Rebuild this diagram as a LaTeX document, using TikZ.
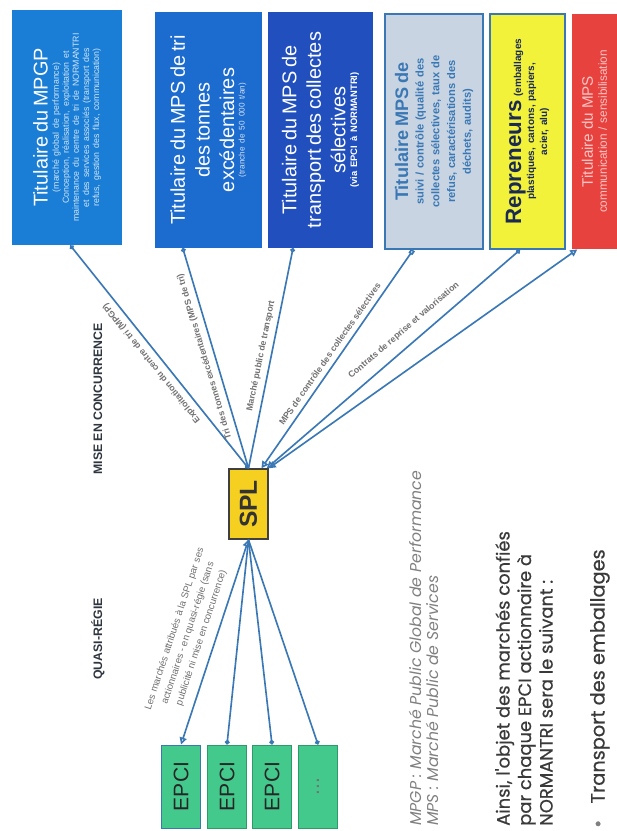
\documentclass[tikz,border=0pt]{standalone}
\usepackage{fontspec}
\setmainfont{Liberation Sans}
\newfontfamily\popfont{Poppins}
\newfontfamily\popbold{Poppins}[FakeBold=0.6]
\usetikzlibrary{arrows.meta,calc}
\definecolor{boxA}{HTML}{1A7ED6}
\definecolor{boxB}{HTML}{1C6BCF}
\definecolor{boxC}{HTML}{2150BE}
\definecolor{boxD}{HTML}{C8D4E1}
\definecolor{edgeblue}{HTML}{3A78B5}
\definecolor{yelbox}{HTML}{F2F23A}
\definecolor{redbox}{HTML}{E8423F}
\definecolor{splyel}{HTML}{F5D020}
\definecolor{epcigreen}{HTML}{44C98D}
\definecolor{epciedge}{HTML}{2E9A6A}
\definecolor{txtdark}{HTML}{3A3A3A}
\definecolor{lblgrey}{HTML}{707070}
\definecolor{navy}{HTML}{1B2A55}
\definecolor{headc}{HTML}{2F3640}
\begin{document}
\begin{tikzpicture}[x=0.03cm,y=-0.03cm,
  topbox/.style={rotate=90, inner sep=2pt, text=white, align=center, minimum width=7.06cm, text width=6.8cm},
  conn/.style={draw=edgeblue, line width=1.4pt},
  lbl/.style={sloped, allow upside down, above=1pt, font=\fontsize{7.5}{9}\selectfont\bfseries, text=lblgrey},
  epci/.style={rotate=90, fill=epcigreen, draw=epciedge, line width=0.8pt, minimum width=2.49cm, minimum height=1.17cm, font=\fontsize{18}{20}\selectfont, text=black!85},
  head/.style={rotate=90, font=\bfseries\fontsize{10.5}{12}\selectfont, text=headc}
]
\useasboundingbox (0,0) rectangle (617,831);

% top boxes
\node[topbox, fill=boxA, minimum height=3.3cm] (mpgp) at (67,127.5)
 {{\fontsize{17}{21}\selectfont Titulaire du MPGP\par}\vspace{1pt}
  {\fontsize{7.5}{8.6}\selectfont\color{white!80!boxA}(marché global de performance)\par
   Conception, réalisation, exploitation et\par maintenance du centre de tri de NORMANTRI\par
   et des services associés (transport des\par refus, gestion des flux, communication)\par}};
\node[topbox, fill=boxB, minimum height=3.21cm] (tri) at (208.5,130)
 {{\fontsize{17}{21}\selectfont Titulaire du MPS de tri\par des tonnes\par excédentaires\par}
  {\fontsize{7}{9}\selectfont\color{white!80!boxB}(tranche de 50 000 t/an)\par}};
\node[topbox, fill=boxC, minimum height=3.15cm] (transp) at (320.5,130)
 {{\fontsize{17}{21}\selectfont Titulaire du MPS de\par transport des collectes\par sélectives\par}
  {\fontsize{8}{10}\selectfont\bfseries(via EPCI à NORMANTRI)\par}};
\node[topbox, fill=boxD, draw=edgeblue, line width=1.5pt, text=edgeblue, minimum height=2.94cm] (ctrl) at (434,131.5)
 {{\fontsize{15.5}{19}\selectfont\bfseries Titulaire MPS de\par}
  {\fontsize{9.5}{13.4}\selectfont\bfseries suivi / contrôle (qualité des\par collectes sélectives, taux de\par refus, caractérisations des\par déchets, audits)\par}};
\node[topbox, fill=yelbox, draw=edgeblue, line width=1.5pt, text=navy, minimum height=2.25cm] (rep) at (527.5,131.5)
 {{\fontsize{19}{21}\selectfont\bfseries Repreneurs {\fontsize{8.5}{10}\selectfont (emballages}\par}
  {\fontsize{8.5}{11}\selectfont\bfseries plastiques, cartons, papiers,\par acier, alu)\par}};
\node[topbox, fill=redbox, text=white!70!redbox, minimum height=1.35cm] (comm) at (594.5,131.5)
 {{\fontsize{13}{17}\selectfont Titulaire du MPS\par}
  {\fontsize{10}{12}\selectfont communication / sensibilisation\par}};

% SPL
\node[rotate=90, fill=splyel, draw=black!75, line width=1.2pt, minimum width=2.1cm, minimum height=1.17cm,
      font=\bfseries\fontsize{21}{22}\selectfont, text=black!80] (spl) at (248.5,504) {SPL};

% EPCI
\node[epci, draw=edgeblue] (e1) at (181,786.5) {EPCI};
\node[epci] (e2) at (227,786.5) {EPCI};
\node[epci] (e3) at (272,786.5) {EPCI};
\node[epci, text=black!55] (e4) at (318,786.5) {...};

% headings
\node[head] (qr) at (98,639) {QUASI-RÉGIE};
\node[head] (mc) at (98,399) {MISE EN CONCURRENCE};

% connectors to top boxes
\draw[conn, {Circle[open,length=4pt]}-{Circle[length=4pt]}] (spl.east) -- ($(mpgp.north west)!0.53!(mpgp.south west)$)
  node[lbl, pos=0.5] {Exploitation du centre de tri (MPGP)};
\draw[conn, -{Circle[open,length=4pt]}] (spl.east) -- ($(tri.north west)!0.26!(tri.south west)$)
  node[lbl, pos=0.52] {Tri des tonnes excédentaires (MPS de tri)};
\draw[conn, -{Circle[open,length=4pt]}] (spl.east) -- ($(transp.north west)!0.24!(transp.south west)$)
  node[lbl, pos=0.5] {Marché public de transport};
\draw[conn, {Triangle[open,length=6pt,width=6pt]}-{Square[open,length=4pt]}] ($(spl.north east)!0.82!(spl.south east)$) -- ($(ctrl.north west)!0.29!(ctrl.south west)$)
  node[lbl, pos=0.5] {MPS de contrôle des collectes sélectives};
\draw[conn, {Triangle[open,length=6pt,width=6pt]}-{Circle[open,length=4pt]}] ($(spl.north east)!0.95!(spl.south east)$) -- ($(rep.north west)!0.4!(rep.south west)$)
  node[lbl, pos=0.58, above=4pt] {Contrats de reprise et valorisation};
\draw[conn, {Triangle[open,length=6pt,width=6pt]}-{Triangle[open,length=6pt,width=6pt]}] (spl.south east) -- ($(comm.north west)!0.12!(comm.south west)$);

% connectors to EPCI
\draw[conn, {Triangle[open,length=6pt,width=6pt]}-{Triangle[open,length=6pt,width=6pt]}] (spl.west) -- (e1.east)
  node[pos=0.5, sloped, above=4pt, align=center, font=\fontsize{8.3}{12}\selectfont, text=lblgrey]
  {Les marchés attribués à la SPL par ses\\actionnaires - en quasi-régie (sans\\publicité ni mise en concurrence)};
\draw[conn, -{Circle[open,length=4pt]}] (spl.west) -- (e2.east);
\draw[conn, -{Circle[open,length=4pt]}] (spl.west) -- (e3.east);
\draw[conn, -{Circle[open,length=4pt]}] (spl.west) -- (e4.east);

% footnote
\node[rotate=90, anchor=north west, align=left, inner sep=0pt, font=\popfont\itshape\fontsize{13.4}{14.5}\selectfont, text=black!50] (note) at (409,826)
 {MPGP : Marché Public Global de Performance\\MPS : Marché Public de Services};

% main text
\node[rotate=90, anchor=north west, align=left, inner sep=0pt, font=\popbold\fontsize{15.3}{18.4}\selectfont, text=txtdark] (ainsi) at (495,826)
 {Ainsi, l'objet des marchés confiés\\par chaque EPCI actionnaire à\\NORMANTRI sera le suivant :};
\node[rotate=90, anchor=north west, inner sep=0pt, font=\popbold\fontsize{16.5}{18}\selectfont, text=txtdark] (bul) at (590,828)
 {{\color{black!50}\textbullet}\hspace{14pt}Transport des emballages};
\end{tikzpicture}
\end{document}
